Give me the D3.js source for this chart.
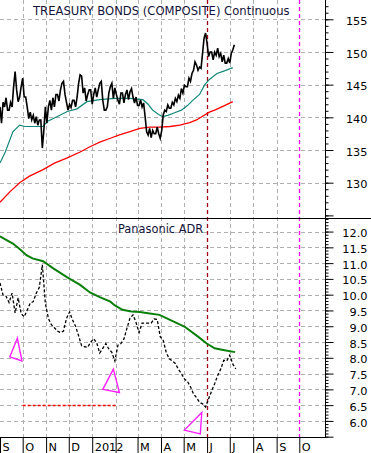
<!DOCTYPE html>
<html><head><meta charset="utf-8">
<script src="https://cdn.jsdelivr.net/npm/d3@7/dist/d3.min.js"></script>
<style>body{margin:0;background:#fff}svg{display:block}text{font-family:"DejaVu Sans",Verdana,sans-serif}</style>
</head><body><svg id="c" width="371" height="453"></svg>
<script>
// ---------- data ----------
const seriesStart = "2011-09-01";   // first sample of both price series
const bondStepDays = 2;             // bond samples every 2 calendar days
const panaStepDays = 4;             // Panasonic samples every 4 calendar days

const bondClose = [141.6,139.1,142.3,141.6,143.0,141.1,141.1,142.3,141.6,144.7,
 147.0,144.2,142.4,143.1,144.7,146.0,143.1,143.1,141.6,139.8,
 140.8,139.6,140.3,139.1,140.1,138.8,139.6,139.6,135.3,138.0,
 141.6,139.1,141.6,142.6,141.1,143.0,141.6,143.5,143.5,142.5,
 144.2,145.2,145.5,143.5,142.3,141.1,142.0,141.5,142.6,142.6,
 141.6,143.1,145.2,146.5,146.3,143.7,144.5,142.5,143.5,144.2,
 144.2,142.0,143.5,144.5,143.1,144.2,145.2,145.5,142.6,141.1,
 141.1,141.6,143.7,144.7,145.2,142.9,144.5,143.5,142.6,142.0,
 143.7,143.7,142.2,143.5,144.2,142.7,143.9,144.4,143.1,142.2,
 143.1,141.8,141.8,142.65,141.6,142.2,140.1,137.8,137.3,138.3,
 136.9,138.0,137.5,137.5,138.5,137.5,136.8,138.0,140.4,141.1,
 140.9,141.9,141.4,141.4,142.3,141.9,142.9,142.4,143.4,142.9,
 144.4,143.7,144.9,144.7,144.7,146.0,145.5,146.7,147.2,148.5,
 148.0,147.2,147.7,147.5,149.8,152.1,152.9,151.3,149.3,150.0,
 150.0,148.8,150.0,149.5,150.6,149.3,149.8,148.5,149.5,148.3,
 148.3,149.0,148.3,149.8,150.3,151.1];

const panaClose = [10.37,9.99,9.95,9.75,10.05,9.42,9.90,9.40,9.30,9.51,
 9.73,9.78,10.05,10.23,10.95,9.73,9.25,9.05,8.95,8.85,
 8.80,8.85,9.25,9.45,9.20,9.00,8.70,8.38,8.35,8.33,
 8.50,8.60,8.47,8.15,8.30,8.45,8.28,8.17,7.90,8.40,
 8.45,8.60,8.94,9.26,9.36,9.12,8.80,9.10,9.10,9.10,
 9.10,9.23,9.22,8.67,8.55,8.16,7.97,7.90,7.82,7.64,
 7.50,7.33,7.25,7.08,6.86,6.74,6.59,6.54,6.44,6.70,
 6.95,7.18,7.44,7.64,7.92,7.90,8.08,7.80,7.65];

const bondMA50 = [["2011-09-01",133.0],["2011-09-08",134.7],["2011-09-18",137.8],["2011-09-27",138.8],
 ["2011-10-04",138.6],["2011-10-17",138.6],["2011-10-28",138.6],["2011-11-03",139.4],["2011-11-12",139.9],
 ["2011-11-29",140.9],["2011-12-12",141.3],["2011-12-25",142.4],["2012-01-11",142.7],["2012-01-31",142.9],
 ["2012-02-20",142.9],["2012-03-08",142.7],["2012-03-15",142.0],["2012-03-21",141.1],["2012-03-28",140.5],
 ["2012-04-03",140.1],["2012-04-10",140.3],["2012-04-19",140.7],["2012-04-28",141.1],["2012-05-06",141.8],
 ["2012-05-13",142.6],["2012-05-22",143.5],["2012-05-29",145.0],["2012-06-04",145.8],["2012-06-14",146.7],
 ["2012-06-24",147.1],["2012-07-05",147.6]];

const bondMA200 = [["2011-09-01",127.0],["2011-09-14",128.6],["2011-09-27",130.0],["2011-10-10",131.0],
 ["2011-10-28",132.0],["2011-11-12",133.0],["2011-11-29",133.8],["2011-12-16",134.7],["2011-12-29",135.5],
 ["2012-01-11",136.2],["2012-01-25",136.8],["2012-02-06",137.3],["2012-02-20",137.8],["2012-03-04",138.3],
 ["2012-03-17",138.5],["2012-03-30",138.5],["2012-04-13",138.6],["2012-04-26",138.8],["2012-05-09",139.2],
 ["2012-05-18",139.6],["2012-05-25",140.1],["2012-06-04",140.8],["2012-06-11",141.1],["2012-06-24",141.8],
 ["2012-07-05",142.4]];

const panaMA200 = [["2011-09-01",11.85],["2011-09-08",11.75],["2011-09-18",11.62],["2011-09-27",11.45],
 ["2011-10-06",11.25],["2011-10-14",11.15],["2011-10-28",11.06],["2011-11-10",10.84],["2011-11-29",10.55],
 ["2011-12-16",10.31],["2011-12-29",10.07],["2012-01-11",9.92],["2012-01-25",9.78],["2012-01-31",9.66],
 ["2012-02-10",9.52],["2012-02-22",9.47],["2012-03-04",9.45],["2012-03-15",9.41],["2012-03-30",9.36],
 ["2012-04-15",9.18],["2012-05-02",8.99],["2012-05-20",8.67],["2012-05-31",8.46],["2012-06-11",8.30],
 ["2012-06-24",8.24],["2012-07-08",8.18]];

const monthLabels = ["S","O","N","D","2012","","M","A","M","J","J","A","S","O"];
const topTickLabels = [155,150,145,140,135,130];
const botTickLabels = [12.0,11.5,11.0,10.5,10.0,9.5,9.0,8.5,8.0,7.5,7.0,6.5,6.0];

const triangles = [
 [["2011-09-24",8.62],["2011-09-14",8.03],["2011-09-30",7.90]],
 [["2012-01-29",7.64],["2012-01-15",7.00],["2012-02-06",6.90]],
 [["2012-05-25",6.27],["2012-05-02",5.71],["2012-05-23",5.59]]
];
const supportLevel = {from:"2011-10-01", to:"2012-02-01", value:6.5};
const markerDates = {jun:"2012-06-01", oct:"2012-10-01"};
const titleTop = "TREASURY BONDS (COMPOSITE) Continuous";
const titleBot = "Panasonic ADR";

// ---------- layout ----------
const plotR = 325, divY = 218, axisY = 437;
const parse = d3.utcParse("%Y-%m-%d");
const svg = d3.select("#c");

const x = d3.scaleUtc().domain([parse("2011-09-01"), parse("2012-11-04")]).range([0, plotR]);
const yTop = d3.scaleLinear().domain([124.6, 157.95]).range([divY, 0]);
const yBot = d3.scaleLinear().domain([5.49, 12.43]).range([axisY, divY]);

const start = parse(seriesStart);
const bond = bondClose.map((v,i)=>({d:d3.utcDay.offset(start, i*bondStepDays), v}));
const pana = panaClose.map((v,i)=>({d:d3.utcDay.offset(start, i*panaStepDays), v}));
const toPts = arr => arr.map(([d,v])=>({d:parse(d), v}));
const px = v => Math.round(v)+0.5;

const monthStarts = d3.utcMonth.range(parse("2011-09-01"), parse("2012-11-01"));

const gridC = "#b0b0b0";
svg.append("g").selectAll("line").data(topTickLabels).join("line")
  .attr("x1",0).attr("x2",plotR).attr("y1",d=>px(yTop(d))).attr("y2",d=>px(yTop(d)))
  .attr("stroke",gridC).attr("stroke-dasharray","4,3");
svg.append("g").selectAll("line").data(botTickLabels).join("line")
  .attr("x1",0).attr("x2",plotR).attr("y1",d=>px(yBot(d))).attr("y2",d=>px(yBot(d)))
  .attr("stroke",gridC).attr("stroke-dasharray","4,3");
const special = [markerDates.jun, markerDates.oct].map(s=>+parse(s));
svg.append("g").selectAll("line").data(monthStarts.slice(1).filter(d=>!special.includes(+d))).join("line")
  .attr("x1",d=>px(x(d))).attr("x2",d=>px(x(d))).attr("y1",0).attr("y2",axisY)
  .attr("stroke",gridC).attr("stroke-dasharray","4,3");

// markers
svg.append("line").attr("x1",px(x(parse(markerDates.jun)))).attr("x2",px(x(parse(markerDates.jun))))
  .attr("y1",0).attr("y2",axisY).attr("stroke","#a00018").attr("stroke-width",1.3).attr("stroke-dasharray","4,3");
svg.append("line").attr("x1",px(x(parse(markerDates.oct)))).attr("x2",px(x(parse(markerDates.oct))))
  .attr("y1",0).attr("y2",axisY).attr("stroke","#ff00ff").attr("stroke-width",1.3).attr("stroke-dasharray","4,3");

// support level
svg.append("line").attr("x1",x(parse(supportLevel.from))).attr("x2",x(parse(supportLevel.to)))
  .attr("y1",px(yBot(supportLevel.value))).attr("y2",px(yBot(supportLevel.value)))
  .attr("stroke","#ff0000").attr("stroke-width",1.4).attr("stroke-dasharray","3,2");

// lines
const lineT = d3.line().x(p=>x(p.d)).y(p=>yTop(p.v));
const lineB = d3.line().x(p=>x(p.d)).y(p=>yBot(p.v));
svg.append("path").attr("d",lineT(toPts(bondMA200))).attr("fill","none").attr("stroke","#ff0000").attr("stroke-width",1.3);
svg.append("path").attr("d",lineT(toPts(bondMA50))).attr("fill","none").attr("stroke","#12877a").attr("stroke-width",1.2);
svg.append("path").attr("d",lineT(bond)).attr("fill","none").attr("stroke","#000").attr("stroke-width",1.6);

svg.append("path").attr("d",lineB(toPts(panaMA200))).attr("fill","none").attr("stroke","#0a7f0a").attr("stroke-width",2);
svg.append("path").attr("d",lineB(pana)).attr("fill","none").attr("stroke","#000").attr("stroke-width",1.3).attr("stroke-dasharray","3,2");

// triangles
svg.append("g").selectAll("path").data(triangles).join("path")
  .attr("d",t=>d3.line().x(p=>x(parse(p[0]))).y(p=>yBot(p[1]))(t)+"Z")
  .attr("fill","none").attr("stroke","#ff20ff").attr("stroke-width",1.4);

// frame
svg.append("line").attr("x1",0).attr("x2",371).attr("y1",divY+0.5).attr("y2",divY+0.5).attr("stroke","#000");
svg.append("line").attr("x1",plotR+0.5).attr("x2",plotR+0.5).attr("y1",0).attr("y2",axisY+1).attr("stroke","#000");
svg.append("line").attr("x1",0).attr("x2",plotR+1).attr("y1",axisY+0.5).attr("y2",axisY+0.5).attr("stroke","#000");

// right axes
function yAxis(scale, minor, major, fmt){
  const g = svg.append("g").attr("transform",`translate(${plotR+0.5},0)`);
  g.append("g").call(d3.axisRight(scale).tickValues(minor).tickSize(3).tickFormat("")).call(s=>s.select(".domain").remove());
  const m = g.append("g").call(d3.axisRight(scale).tickValues(major).tickSize(8).tickFormat(fmt)).call(s=>s.select(".domain").remove());
  m.selectAll("text").attr("x",42).attr("dy","0.45em").attr("text-anchor","end").style("font-size","11.3px").style("font-family","DejaVu Sans, Verdana, sans-serif").attr("fill","#000");
}
yAxis(yTop, d3.range(125,158,1), [155,150,145,140,135,130,125], d=>topTickLabels.includes(d)?String(d):"");
yAxis(yBot, d3.range(55,125,1).map(v=>v/10), d3.range(11,25,1).map(v=>v/2), d=>botTickLabels.includes(d)?d.toFixed(1):"");

// x axis
const xg = svg.append("g").attr("transform",`translate(0,${axisY+0.5})`)
  .call(d3.axisBottom(x).tickValues(monthStarts).tickSize(16).tickSizeOuter(0).tickFormat((d,i)=>monthLabels[i]));
xg.select(".domain").remove();
xg.selectAll(".tick line").attr("stroke","#000");
xg.selectAll("text").attr("text-anchor","start").attr("x",2).attr("y",13).attr("dy",null)
  .style("font-size","11.3px").style("font-family","DejaVu Sans, Verdana, sans-serif").attr("fill","#000");

// titles
svg.append("text").attr("x",33).attr("y",15).text(titleTop).style("font-size","11.6px").attr("fill","#14143a");
svg.append("text").attr("x",118).attr("y",233).text(titleBot).style("font-size","11.4px").attr("fill","#14143a");
</script></body></html>
